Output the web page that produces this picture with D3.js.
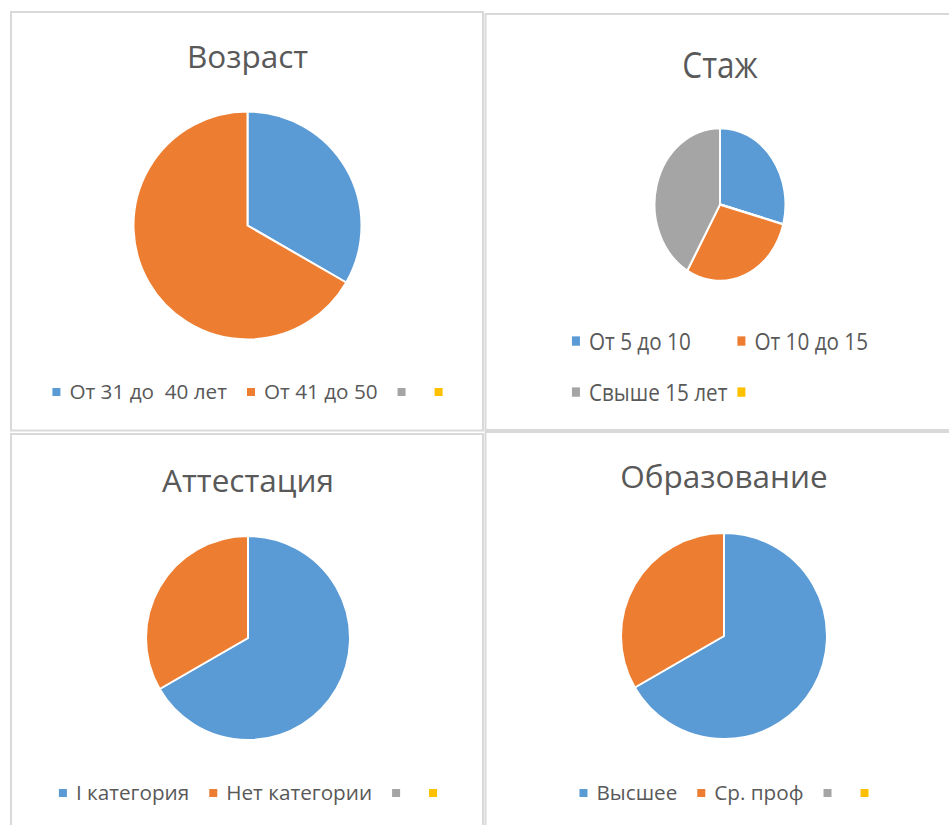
<!DOCTYPE html>
<html>
<head>
<meta charset="utf-8">
<script src="https://cdn.jsdelivr.net/npm/d3@7"></script>
<style>
  body { margin: 0; background: #fff; }
  text { font-family: "Open Sans", sans-serif; fill: #595959; white-space: pre; }
</style>
</head>
<body>
<div id="viz-container"></div>
<script>
// data
const titles = ["Возраст", "Стаж", "Аттестация", "Образование"];

const ageLabels = ["От 31 до  40 лет", "От 41 до 50", "", ""];
const ageValues = [1, 2, 0, 0];

const expLabels = ["От 5 до 10", "От 10 до 15", "Свыше 15 лет", ""];
const expValues = [7, 7, 10, 0];

const certLabels = ["I категория", "Нет категории", "", ""];
const certValues = [2, 1, 0, 0];

const eduLabels = ["Высшее", "Ср. проф", "", ""];
const eduValues = [2, 1, 0, 0];

const colors = ["#5B9BD5", "#ED7D31", "#A5A5A5", "#FFC000"];

let viz = d3.select("#viz-container")
  .append("svg")
    .attr("width", 949)
    .attr("height", 825)
;

// panel frames
let frames = [
  {x: 11, y: 12, w: 472, h: 418.5},
  {x: 485.5, y: 14, w: 500, h: 416},
  {x: 11, y: 434, w: 472, h: 500},
  {x: 485.5, y: 432, w: 500, h: 500}
];
viz.selectAll("rect.frame").data(frames).enter()
  .append("rect")
    .attr("class", "frame")
    .attr("x", d => d.x)
    .attr("y", d => d.y)
    .attr("width", d => d.w)
    .attr("height", d => d.h)
    .attr("fill", "none")
    .attr("stroke", "#D9D9D9")
    .attr("stroke-width", 2)
;

// layout of each panel (in the panel's own coords)
let panels = [
  {title: titles[0], labels: ageLabels, values: ageValues, oy: 0, sy: 1,
   cx: 247.5, titleY: 67.5, pieY: 225.5, r: 114, legendY: [392], cols: 4},
  {title: titles[1], labels: expLabels, values: expValues, oy: 14, sy: 1.168,
   cx: 720, titleY: 54.8, pieY: 163.1, r: 65.5, legendY: [280, 323.7], cols: 2},
  {title: titles[2], labels: certLabels, values: certValues, oy: 0, sy: 1,
   cx: 248, titleY: 491.5, pieY: 638, r: 102, legendY: [793], cols: 4},
  {title: titles[3], labels: eduLabels, values: eduValues, oy: 0, sy: 1,
   cx: 724, titleY: 488, pieY: 636, r: 103, legendY: [793], cols: 4}
];

let pie = d3.pie().sort(null).value(d => d.value);

panels.forEach(drawPanel);

function drawPanel(p){
  // the "Стаж" chart is stretched vertically in the source, hence sy
  let g = viz.append("g")
      .attr("transform", "translate(0," + p.oy + ") scale(1," + p.sy + ")");

  g.append("text")
      .attr("x", p.cx)
      .attr("y", p.titleY)
      .attr("text-anchor", "middle")
      .attr("font-size", 31.5)
      .text(p.title);

  let rows = p.labels.map((l, i) => ({label: l, value: p.values[i], color: colors[i]}));

  let arc = d3.arc().innerRadius(0).outerRadius(p.r);
  g.append("g")
      .attr("transform", "translate(" + p.cx + "," + p.pieY + ")")
    .selectAll("path").data(pie(rows.filter(d => d.value > 0))).enter()
    .append("path")
      .attr("d", arc)
      .attr("fill", d => d.data.color)
      .attr("stroke", "#fff")
      .attr("stroke-width", 2)
      .attr("stroke-linejoin", "round")
  ;

  // legend
  let leg = g.append("g");
  let items = leg.selectAll("g").data(rows).enter().append("g");
  items.append("rect")
      .attr("width", 8)
      .attr("height", 8)
      .attr("y", -4)
      .attr("fill", d => d.color);
  items.append("text")
      .attr("x", 17)
      .attr("dy", "0.35em")
      .attr("font-size", 20.7)
      .text(d => d.label);

  let widths = [];
  items.each(function(d){
    let tw = d3.select(this).select("text").node().getComputedTextLength();
    widths.push(d.label ? 17 + tw : 8);
  });

  if (p.cols >= rows.length){
    // single row
    let pos = [], x = 0;
    widths.forEach((w, i) => {
      pos.push(x);
      x += w + (rows[i].label ? 20 : 29);
    });
    let total = pos[pos.length - 1] + widths[widths.length - 1];
    let x0 = p.cx - total / 2;
    items.attr("transform", (d, i) => "translate(" + (x0 + pos[i]) + "," + p.legendY[0] + ")");
  } else {
    // grid
    let colW = d3.max(widths) + 10;
    let total = colW * (p.cols - 1) + d3.max(widths.filter((w, i) => i % p.cols == p.cols - 1));
    let x0 = p.cx - total / 2;
    items.attr("transform", (d, i) =>
      "translate(" + (x0 + (i % p.cols) * colW) + "," + p.legendY[Math.floor(i / p.cols)] + ")");
  }
}
</script>
</body>
</html>
